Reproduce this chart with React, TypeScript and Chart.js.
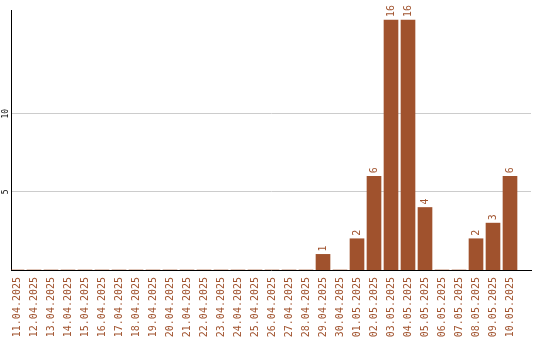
import React, { useEffect, useRef } from "react";
import { Chart, registerables } from "chart.js";

Chart.register(...registerables);

const categories: string[] = [
  "11.04.2025", "12.04.2025", "13.04.2025", "14.04.2025", "15.04.2025",
  "16.04.2025", "17.04.2025", "18.04.2025", "19.04.2025", "20.04.2025",
  "21.04.2025", "22.04.2025", "23.04.2025", "24.04.2025", "25.04.2025",
  "26.04.2025", "27.04.2025", "28.04.2025", "29.04.2025", "30.04.2025",
  "01.05.2025", "02.05.2025", "03.05.2025", "04.05.2025", "05.05.2025",
  "06.05.2025", "07.05.2025", "08.05.2025", "09.05.2025", "10.05.2025",
];

const counts: number[] = [
  0, 0, 0, 0, 0, 0, 0, 0, 0, 0,
  0, 0, 0, 0, 0, 0, 0, 0, 1, 0,
  2, 6, 16, 16, 4, 0, 0, 2, 3, 6,
];

const yTickValues: number[] = [5, 10];
const yMax = 16.64;

const BAR_COLOR = "#a0522d";
const MONO = "'DejaVu Sans Mono', monospace";

const valueLabels = {
  id: "valueLabels",
  afterDatasetsDraw(chart: any) {
    const ctx = chart.ctx;
    const meta = chart.getDatasetMeta(0);
    ctx.save();
    ctx.fillStyle = BAR_COLOR;
    ctx.font = `10px ${MONO}`;
    ctx.textAlign = "left";
    ctx.textBaseline = "middle";
    meta.data.forEach((bar: any, i: number) => {
      const v = counts[i];
      if (!v) return;
      ctx.save();
      ctx.translate(bar.x, bar.y - 3);
      ctx.rotate(-Math.PI / 2);
      ctx.fillText(String(v), 0, 0);
      ctx.restore();
    });
    ctx.restore();
  },
};

export default function App() {
  const ref = useRef<HTMLCanvasElement | null>(null);

  useEffect(() => {
    if (!ref.current) return;
    const chart = new Chart(ref.current, {
      type: "bar",
      data: {
        datasets: [
          {
            data: counts.map((v, i) => ({ x: i, y: v })),
            backgroundColor: BAR_COLOR,
            borderWidth: 0,
            barThickness: 14,
          },
        ],
      },
      options: {
        animation: false,
        responsive: false,
        layout: { padding: { top: 10, right: 9, left: 0, bottom: 0 } },
        plugins: {
          legend: { display: false },
          tooltip: { enabled: false },
        },
        scales: {
          x: {
            type: "linear",
            offset: false,
            min: -6 / 17,
            max: 520 / 17 - 6 / 17,
            grid: { display: false, drawTicks: false, offset: false },
            border: { display: true, color: "#000", width: 1 },
            afterBuildTicks: (scale: any) => {
              scale.ticks = categories.map((_, i) => ({ value: i }));
            },
            afterFit: (scale: any) => {
              scale.height = 70;
            },
            ticks: {
              autoSkip: false,
              minRotation: 90,
              maxRotation: 90,
              padding: 7,
              color: BAR_COLOR,
              font: { family: MONO, size: 10 },
              callback: (v: any) => categories[Math.round(Number(v))] ?? "",
            },
          },
          y: {
            min: 0,
            max: yMax,
            grid: { color: "#cccccc", drawTicks: false },
            border: { display: true, color: "#000", width: 1 },
            afterBuildTicks: (scale: any) => {
              scale.ticks = yTickValues.map((v) => ({ value: v }));
            },
            afterFit: (scale: any) => {
              scale.width = 11;
            },
            ticks: {
              minRotation: 90,
              maxRotation: 90,
              crossAlign: "center",
              padding: 0,
              color: "#000",
              font: { family: MONO, size: 8 },
            },
          },
        },
      },
      plugins: [valueLabels],
    });
    return () => chart.destroy();
  }, []);

  return (
    <div style={{ position: "absolute", left: 0, top: 0, width: 540, height: 340 }}>
      <canvas ref={ref} width={540} height={340} style={{ width: 540, height: 340 }} />
    </div>
  );
}
